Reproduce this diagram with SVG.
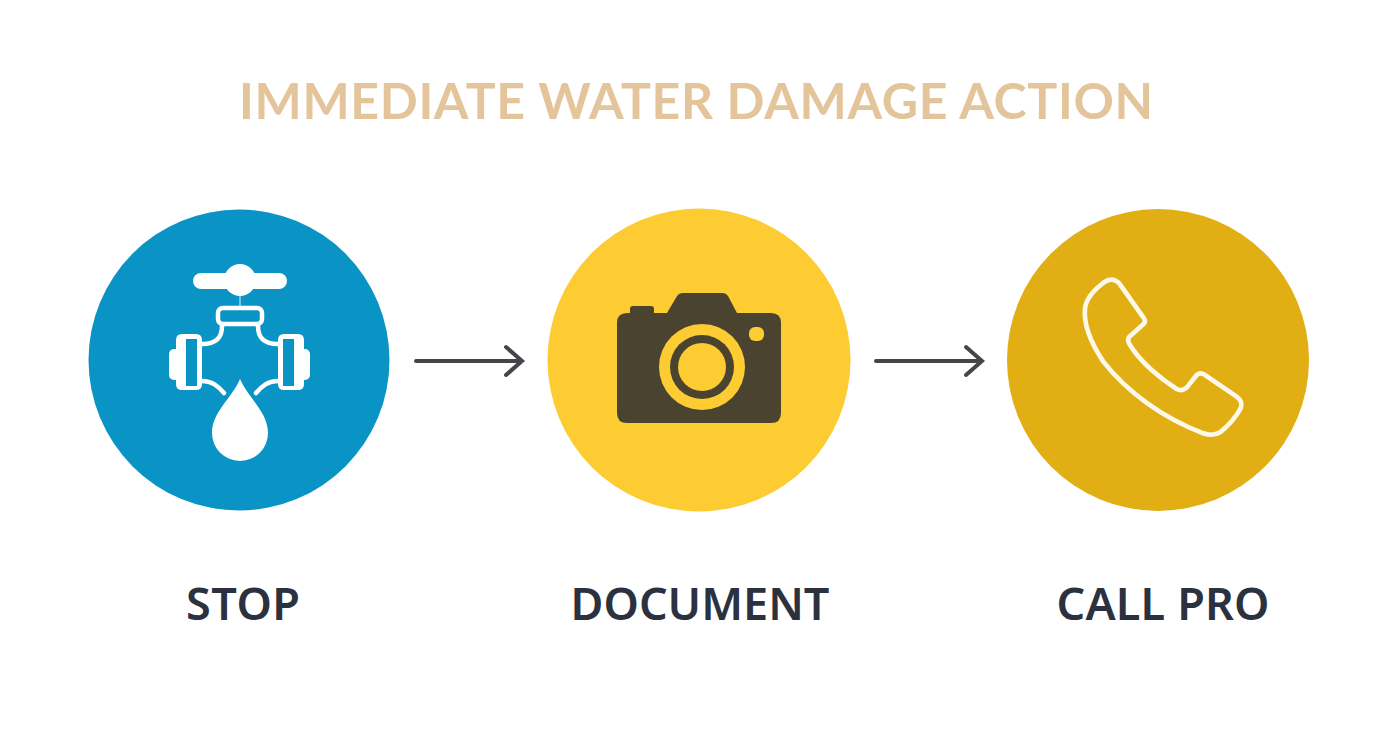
<svg xmlns="http://www.w3.org/2000/svg" width="1392" height="752" viewBox="0 0 1392 752">
<style>
.title{font-family:Lato,sans-serif;font-size:50px;font-weight:700;fill:#e3c49b;text-anchor:middle}
.label{font-family:"Noto Sans",sans-serif;font-size:45px;font-weight:600;fill:#2c3140;text-anchor:middle}
.conn{fill:none;stroke:#46464a;stroke-width:4;stroke-linecap:round;stroke-linejoin:miter}
.wl{fill:none;stroke:#fff;stroke-width:4.500;stroke-linecap:round}
</style>
<rect width="1392" height="752" fill="#fff"/>
<text class="title" x="696" y="119" textLength="914" lengthAdjust="spacing">IMMEDIATE WATER DAMAGE ACTION</text>
<g id="connectors">
<path class="conn" d="M416 361H522M506 347L522 361L506 375"/>
<path class="conn" d="M876 361H982M966 347L982 361L966 375"/>
</g>
<g id="stop">
<circle cx="239" cy="360" r="150.500" fill="#0a94c6"/>
<rect x="193" y="273" width="94" height="16" rx="8" fill="#fff"/>
<circle cx="240" cy="280" r="16" fill="#fff"/>
<path d="M240 295V306" stroke="#fff" stroke-width="1.500" opacity=".6"/>
<rect x="218" y="308" width="44" height="16" rx="5" fill="none" stroke="#fff" stroke-width="4.500"/>
<path class="wl" d="M222 326C222 338 216 344 202 344M258 326C258 338 264 344 278 344M202 381C212 381 218 386 224 393M278 381C268 381 262 386 256 393"/>
<path d="M176 340q0-6 6-6h14q6 0 6 6v44q0 6-6 6h-14q-6 0-6-6zM186 339v47h11v-47z" fill="#fff" fill-rule="evenodd"/>
<rect x="169" y="349" width="12" height="31" rx="5" fill="#fff"/>
<path d="M278 340q0-6 6-6h14q6 0 6 6v44q0 6-6 6h-14q-6 0-6-6zM283 339v47h11v-47z" fill="#fff" fill-rule="evenodd"/>
<rect x="298" y="349" width="12" height="31" rx="5" fill="#fff"/>
<path d="M240 379C248 398 268 412 268 433A28 28 0 0 1 212 433C212 412 232 398 240 379Z" fill="#fff"/>
</g>
<g id="document">
<circle cx="699" cy="360" r="151.500" fill="#fdcb32"/>
<path d="M627 313H630V309Q630 306 633 306H651Q654 306 654 309V313H667L677 296Q679 293 683 293H722Q726 293 728 296L737 313H771Q781 313 781 323V413Q781 423 771 423H627Q617 423 617 413V323Q617 313 627 313Z" fill="#4a4330"/>
<rect x="749" y="327" width="15" height="14" rx="6" fill="#fdcb32"/>
<circle cx="702" cy="367" r="43" fill="#fdcb32"/>
<circle cx="702" cy="367" r="32" fill="#4a4330"/>
<circle cx="702" cy="367" r="24" fill="#fdcb32"/>
</g>
<g id="call-pro">
<circle cx="1158" cy="360" r="151" fill="#e1af14"/>
<path transform="translate(1070 265) scale(.3333)" fill="none" stroke="#fdf8e8" stroke-width="14" stroke-linejoin="round" d="M105 50Q130 35 150 58L222 160Q228 170 220 178L178 215Q170 225 180 240C210 290 270 340 320 372Q335 380 350 368L380 330Q392 320 405 330L500 395Q520 410 512 430Q490 470 450 502Q430 515 400 505C280 460 170 380 100 290C60 230 40 180 45 130Q50 90 105 50Z"/>
</g>
<text class="label" x="243" y="620" textLength="114" lengthAdjust="spacing">STOP</text>
<text class="label" x="700" y="620">DOCUMENT</text>
<text class="label" x="1163" y="620" textLength="213" lengthAdjust="spacing">CALL PRO</text>
</svg>
